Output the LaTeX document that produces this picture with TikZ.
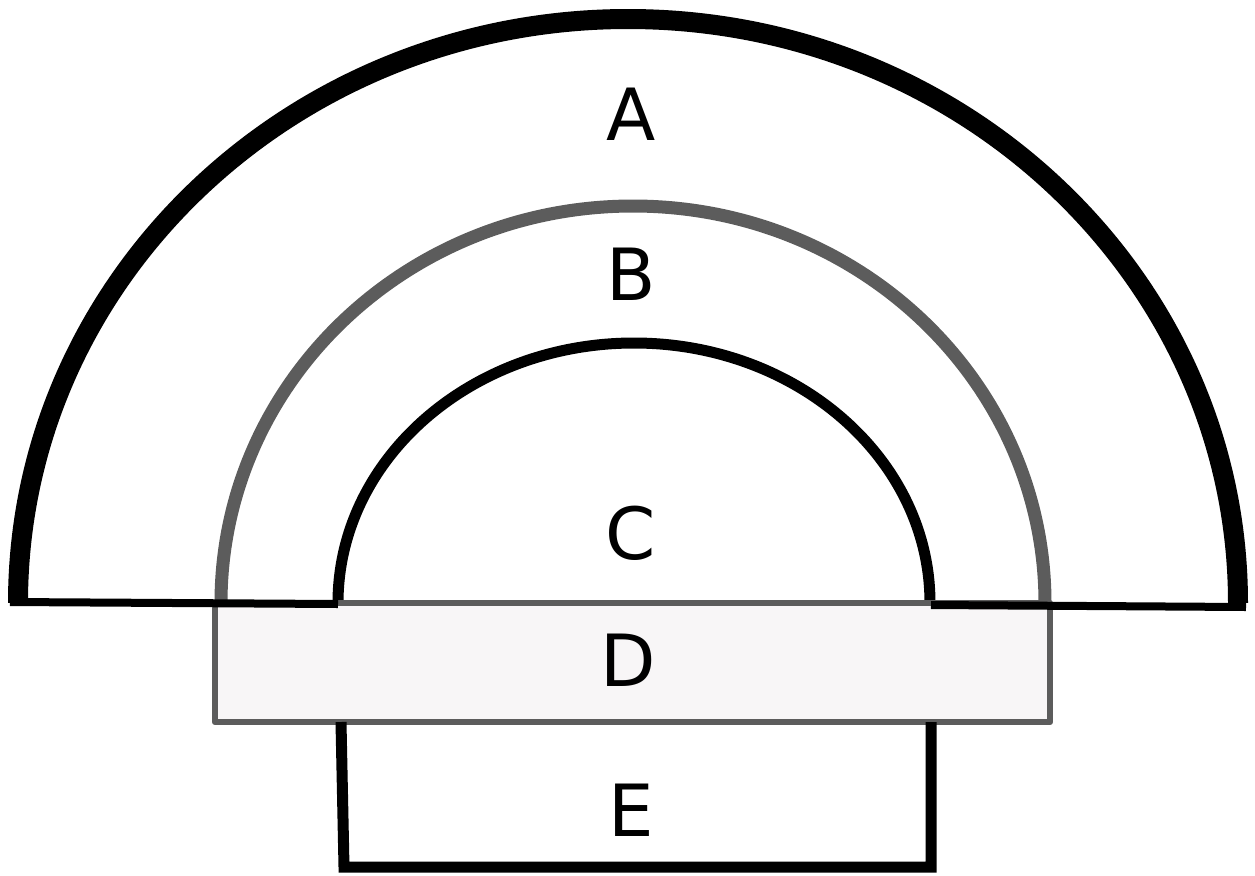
\documentclass[tikz,border=0pt]{standalone}
\usepackage{fontspec}
\setsansfont{DejaVu Sans}
\definecolor{ringgray}{HTML}{5C5C5C}
\definecolor{boxfill}{HTML}{F7F5F6}
\begin{document}
\begin{tikzpicture}[x=0.5pt, y=-0.5pt, line join=round,
  lbl/.style={font=\sffamily\fontsize{36}{40}\selectfont, inner sep=0pt},
  outerring/.style={draw=black, line width=10pt},
  midring/.style={draw=ringgray, line width=6.5pt},
  innerring/.style={draw=black, line width=5.5pt},
  baseline/.style={draw=black, line width=4pt},
  band/.style={fill=boxfill, fill opacity=0.92, draw=ringgray, line width=3.2pt}]
  \useasboundingbox (0,0) rectangle (1255,875);
  \draw[outerring] (18,603) arc[start angle=180, end angle=360, x radius=610, y radius=584];
  \draw[midring] (221,603) arc[start angle=180, end angle=360, x radius=412, y radius=397];
  \draw[innerring] (338,603) arc[start angle=180, end angle=360, x radius=296, y radius=260];
  \draw[band] (215,603) rectangle (1050,722);
  \draw[baseline] (10,602) -- (338,604);
  \draw[baseline] (931,605) -- (1246,607);
  \draw[innerring, line join=miter] (341,722) -- (344,867) -- (931,867) -- (931,722);
  \node[lbl] (a) at (631,114) {A};
  \node[lbl] (b) at (631,274) {B};
  \node[lbl] (c) at (631,533) {C};
  \node[lbl] (d) at (628,660) {D};
  \node[lbl] (e) at (631,810) {E};
\end{tikzpicture}
\end{document}
